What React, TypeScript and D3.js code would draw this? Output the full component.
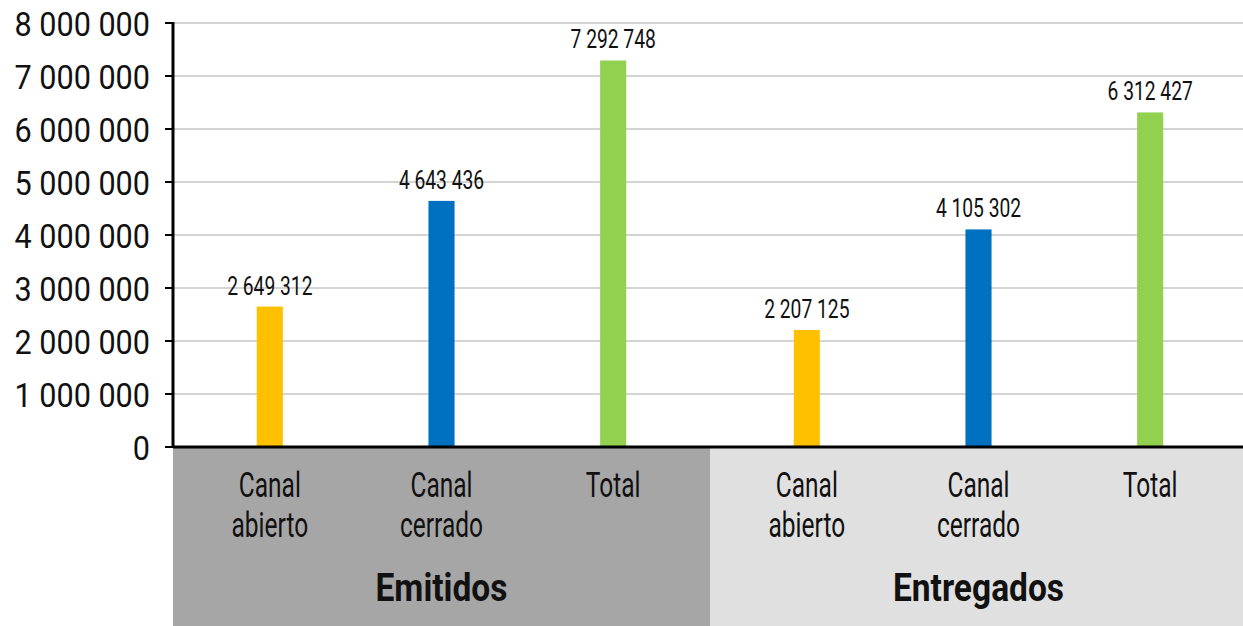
import React, { useEffect } from "react";
import * as d3 from "d3";

const groups = ["Emitidos", "Entregados"];
const categories = ["Canal abierto", "Canal cerrado", "Total"];
const emitidos = [2649312, 4643436, 7292748];
const entregados = [2207125, 4105302, 6312427];
const yTicks = [0, 1000000, 2000000, 3000000, 4000000, 5000000, 6000000, 7000000, 8000000];

const colors = ["#ffc000", "#0070c0", "#92d050"];
const groupFill = ["#a6a6a6", "#e0e0e0"];

const W = 1243;
const H = 626;
const font = "Roboto, 'Noto Sans', sans-serif";

const fmt = (v: number) => d3.format(",")(v).replace(/,/g, " ");

// condensed text: roboto squeezed horizontally
function Txt(props: {
  x: number;
  y: number;
  k: number;
  size: number;
  anchor?: string;
  bold?: boolean;
  children: React.ReactNode;
}) {
  const { x, y, k, size, anchor = "middle", bold = false, children } = props;
  return (
    <text
      transform={`translate(${x},${y}) scale(${k},1)`}
      textAnchor={anchor}
      fontFamily={font}
      fontSize={size}
      fontWeight={bold ? "bold" : "normal"}
      fill="#111"
    >
      {children}
    </text>
  );
}

export default function App() {
  useEffect(() => {
    document.body.style.margin = "0";
  }, []);

  const y = d3.scaleLinear().domain([0, 8000000]).range([447, 23]);
  const gx = d3.scaleBand().domain(groups).range([173, 1247]).padding(0);
  const cx = d3
    .scaleBand()
    .domain(categories)
    .range([0, gx.bandwidth()])
    .paddingInner(0.848)
    .paddingOuter(0.488);

  const series = [emitidos, entregados];
  const x0 = gx.range()[0];

  return (
    <svg width={W} height={H} style={{ display: "block", background: "#fff" }}>
      {/* category bands under the axis */}
      {groups.map((g, i) => (
        <rect
          key={g}
          x={gx(g)!}
          y={y(0) + 1}
          width={i === groups.length - 1 ? W - gx(g)! : gx.bandwidth()}
          height={H - y(0)}
          fill={groupFill[i]}
        />
      ))}

      {/* gridlines */}
      {yTicks.slice(1).map((t) => (
        <line key={t} x1={x0} x2={W} y1={y(t)} y2={y(t)} stroke="#d4d4d4" strokeWidth={2} />
      ))}

      {/* bars and value labels */}
      {groups.map((g, gi) =>
        categories.map((c, ci) => {
          const v = series[gi][ci];
          const bx = gx(g)! + cx(c)!;
          return (
            <g key={g + c}>
              <rect x={bx} y={y(v)} width={cx.bandwidth()} height={y(0) - y(v)} fill={colors[ci]} />
              <Txt x={bx + cx.bandwidth() / 2} y={y(v) - 12} k={0.77} size={25}>
                {fmt(v)}
              </Txt>
            </g>
          );
        })
      )}

      {/* y axis */}
      <line x1={x0} x2={x0} y1={y(8000000) - 1} y2={y(0) + 1} stroke="#000" strokeWidth={3} />
      {yTicks.map((t) => (
        <g key={t}>
          <line x1={x0 - 8} x2={x0} y1={y(t)} y2={y(t)} stroke="#000" strokeWidth={2} />
          <Txt x={150} y={y(t) + 13} k={0.9} size={34} anchor="end">
            {fmt(t)}
          </Txt>
        </g>
      ))}

      {/* x axis */}
      <line x1={x0} x2={W} y1={y(0)} y2={y(0)} stroke="#000" strokeWidth={3} />

      {/* category labels */}
      {groups.map((g) =>
        categories.map((c) => {
          const tx = gx(g)! + cx(c)! + cx.bandwidth() / 2;
          return c.split(" ").map((l, li) => (
            <Txt key={g + c + li} x={tx} y={497 + li * 40} k={0.7} size={35}>
              {l}
            </Txt>
          ));
        })
      )}

      {/* group labels */}
      {groups.map((g) => (
        <Txt key={g} x={gx(g)! + gx.bandwidth() / 2} y={601} k={0.86} size={39} bold>
          {g}
        </Txt>
      ))}
    </svg>
  );
}
